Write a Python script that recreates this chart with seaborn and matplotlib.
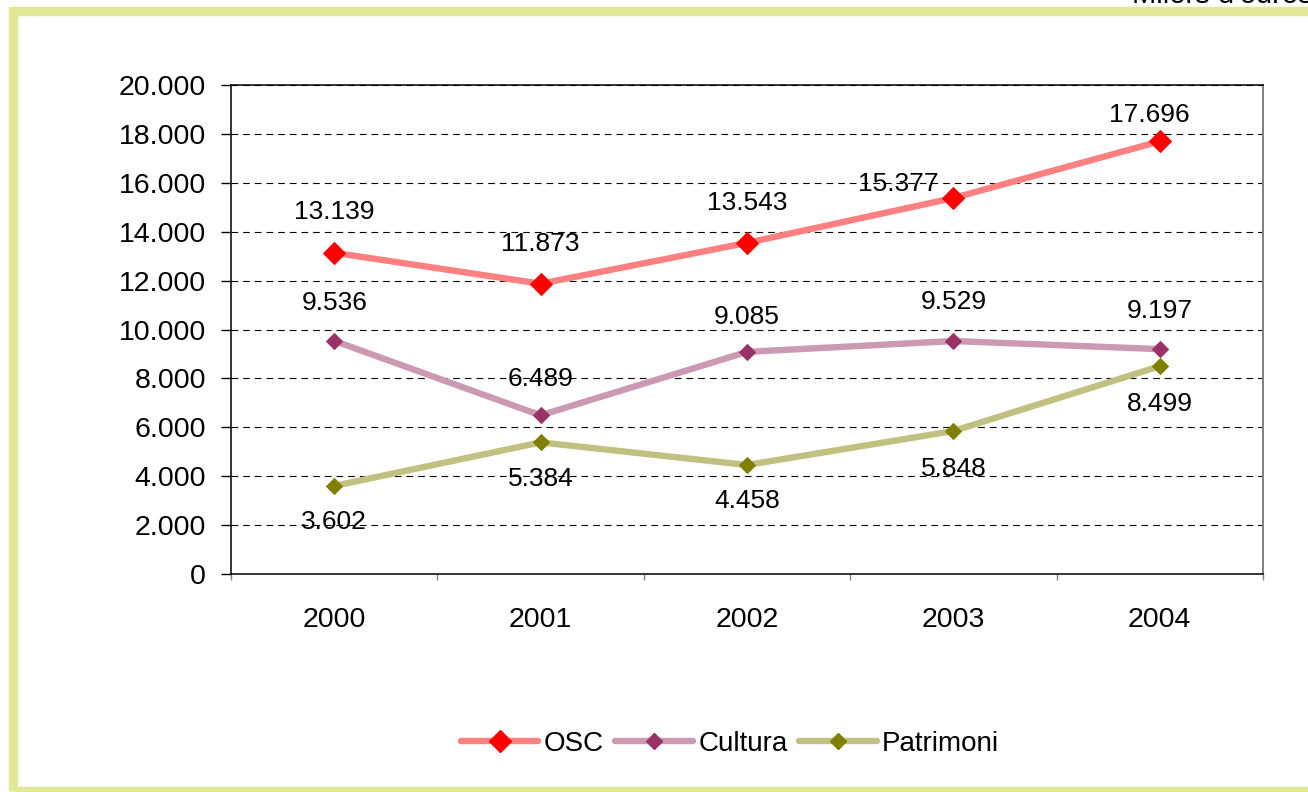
import numpy as np
import pandas as pd
import matplotlib
matplotlib.use('Agg')
import matplotlib.pyplot as plt
from matplotlib.patches import Rectangle
from matplotlib.lines import Line2D
import seaborn as sns

# ── data (milers d'euros) ───────────────────────────────────────────
YEARS     = ['2000', '2001', '2002', '2003', '2004']
OSC       = [13139, 11873, 13543, 15377, 17696]
CULTURA   = [9536, 6489, 9085, 9529, 9197]
PATRIMONI = [3602, 5384, 4458, 5848, 8499]
Y_TICKS   = [0, 2000, 4000, 6000, 8000, 10000, 12000, 14000, 16000, 18000, 20000]

SERIES = [
    # name, values, line colour, marker colour, marker size, label offsets (px)
    ('OSC',       OSC,       '#FF8080', '#FF0000', 11,
     [(0, 41), (0, 40), (0, 40), (-55, 14), (-10, 26)]),
    ('Cultura',   CULTURA,   '#CC99B3', '#993366', 8.5,
     [(0, 38), (0, 36), (0, 35), (0, 39), (0, 38)]),
    ('Patrimoni', PATRIMONI, '#C0C080', '#808000', 8.5,
     [(0, -36), (0, -37), (0, -36), (0, -38), (0, -38)]),
]

def fmt(v):
    return f"{int(v):,}".replace(',', '.')

sns.set_theme(style='white')
plt.rcParams['font.family'] = ['Liberation Sans', 'DejaVu Sans']
plt.rcParams['text.color'] = 'black'
plt.rcParams['xtick.color'] = 'black'
plt.rcParams['ytick.color'] = 'black'

W, H = 1308, 792
fig = plt.figure(figsize=(W / 100, H / 100), dpi=100, facecolor='white')
ax = fig.add_axes([231 / W, 1 - 574 / H, (1263 - 231) / W, (574 - 85) / H])

x = np.arange(len(YEARS))
handles = []
for name, vals, lc, mc, ms, offs in SERIES:
    df = pd.DataFrame({'x': x, 'y': vals})
    sns.lineplot(data=df, x='x', y='y', ax=ax, color=lc, lw=4.6,
                 marker='D', markersize=ms, markerfacecolor=mc,
                 markeredgecolor=mc, zorder=3)
    for xi, v, (dx, dy) in zip(x, vals, offs):
        ax.annotate(fmt(v), (xi, v), xytext=(dx * 0.72, dy * 0.72),
                    textcoords='offset points', ha='center', va='center',
                    fontsize=19, color='black', zorder=4)
    handles.append(Line2D([], [], color=lc, lw=4.6, marker='D', markersize=ms,
                          markerfacecolor=mc, markeredgecolor=mc, label=name))

ax.set_xlim(-0.5, len(YEARS) - 0.5)
ax.set_ylim(0, 20000)
ax.set_yticks(Y_TICKS)
ax.set_yticklabels([fmt(t) for t in Y_TICKS], fontsize=20.5)
ax.set_xticks(np.arange(-0.5, len(YEARS), 1.0))
ax.set_xticklabels([])
ax.set_xticks(x, minor=True)
ax.set_xticklabels(YEARS, minor=True, fontsize=20.5)
ax.tick_params(axis='y', which='major', direction='out', length=7, width=1,
               color='black', pad=11, left=True)
ax.tick_params(axis='x', which='major', direction='out', length=4.5, width=1,
               color='#808080', bottom=True)
ax.tick_params(axis='x', which='minor', length=0, pad=24)
ax.set_xlabel('')
ax.set_ylabel('')

ax.yaxis.grid(True, color='black', linestyle=(0, (6, 4.5)), lw=0.8)
ax.xaxis.grid(False)
for s in ['left', 'bottom', 'top']:
    ax.spines[s].set_color('black')
    ax.spines[s].set_linewidth(1.1)
ax.spines['right'].set_color('#808080')
ax.spines['right'].set_linewidth(1.4)

fig.legend(handles=handles, loc='center', bbox_to_anchor=(730 / W, 1 - 744 / H),
           ncol=3, frameon=False, fontsize=20, handlelength=2.8,
           handletextpad=0.2, columnspacing=0.4)

# light green-yellow frame around the chart
fig.patches.append(Rectangle((12.5 / W, 1 - 791 / H), (1330 - 12.5) / W,
                             (791 - 11) / H, transform=fig.transFigure,
                             fill=False, edgecolor='#E1E996', lw=6.8,
                             clip_on=False))
fig.text(1132 / W, 1 - 3 / H, "Milers d'euros", fontsize=21, va='baseline',
         ha='left', color='black')

plt.savefig('out.png', dpi=100, facecolor='white')
plt.close()
